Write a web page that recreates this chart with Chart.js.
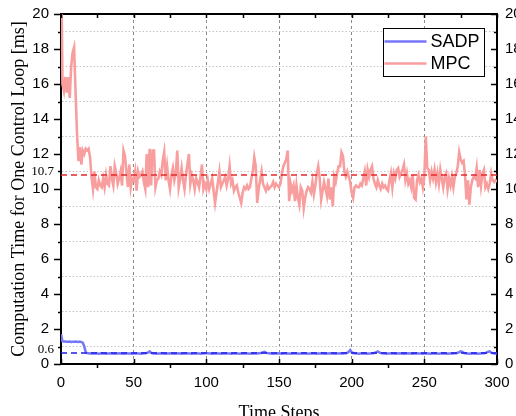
<!DOCTYPE html>
<html>
<head>
<meta charset="utf-8">
<script src="https://cdn.jsdelivr.net/npm/chart.js@4.4.1/dist/chart.umd.min.js"></script>
<style>
  html, body { margin: 0; padding: 0; background: #fff; }
  canvas { display: block; }
</style>
</head>
<body>
<canvas id="chart" width="516" height="416"></canvas>
<script>
// computation time per control loop [ms], one value per time step 0..300
const mpcTimes = [
  24, 16.0, 15.6, 16.4, 15.5, 16.4, 15.2, 17.0, 17.8, 18.1,
  15.6, 13.2, 11.6, 12.4, 11.4, 12.2, 12.0, 12.3, 12.2, 12.3,
  11.8, 10.7, 10.0, 11.0, 10.1, 10.0, 10.5, 10.2, 10.1, 10.6,
  10.1, 10.8, 10.3, 10.2, 11.3, 10.6, 10.2, 11.3, 10.9, 10.3,
  10.6, 11.0, 10.2, 12.2, 11.9, 11.0, 10.1, 11.4, 10.1, 10.6,
  10.5, 11.0, 9.9, 11.0, 10.7, 10.8, 11.0, 10.4, 10.0, 12.0,
  10.1, 12.3, 10.2, 12.2, 12.2, 10.1, 10.5, 10.6, 11.0, 10.8,
  11.6, 12.1, 10.5, 11.3, 10.5, 10.0, 10.8, 11.2, 10.5, 10.9,
  12.2, 10.1, 10.6, 11.2, 10.5, 10.0, 10.8, 11.4, 12.0, 10.3,
  10.8, 10.5, 10.0, 10.6, 10.4, 10.1, 10.7, 11.4, 10.0, 10.3,
  10.0, 10.5, 10.0, 10.3, 10.6, 9.9, 9.2, 9.8, 10.4, 11.0,
  10.1, 10.3, 10.5, 10.7, 10.2, 10.6, 11.3, 10.3, 10.5, 9.9,
  10.1, 10.2, 9.8, 9.5, 9.2, 9.8, 10.1, 10.0, 10.2, 10.0,
  10.1, 10.6, 11.0, 11.8, 11.3, 9.2, 10.0, 10.5, 11.0, 10.3,
  10.1, 9.9, 10.2, 10.0, 10.1, 10.2, 10.4, 10.1, 10.3, 10.2,
  10.1, 10.3, 10.9, 11.3, 11.5, 11.7, 12.2, 9.3, 10.3, 9.9,
  10.2, 9.3, 10.2, 9.5, 9.1, 10.1, 9.9, 8.9, 9.5, 9.9,
  10.1, 10.0, 9.8, 10.4, 9.7, 10.2, 10.9, 11.3, 10.6, 9.4,
  9.9, 10.4, 10.0, 9.6, 10.6, 9.4, 10.1, 9.0, 10.7, 10.4,
  10.9, 11.3, 11.3, 12.1, 11.9, 11.0, 10.7, 11.0, 10.7, 10.4,
  9.8, 9.5, 10.1, 10.2, 10.1, 10.1, 10.3, 10.2, 10.6, 11.0,
  10.2, 11.1, 10.7, 11.1, 11.3, 10.6, 10.3, 10.1, 10.5, 10.2,
  10.0, 10.3, 10.1, 10.2, 10.0, 9.9, 10.5, 10.9, 10.1, 10.9,
  10.6, 11.1, 11.2, 10.7, 10.9, 11.1, 11.4, 10.5, 10.9, 10.3,
  10.5, 10.1, 10.8, 9.5, 9.4, 10.5, 10.8, 10.4, 10.6, 10.1,
  10.7, 13.0, 11.2, 11.1, 10.5, 11.0, 10.6, 11.1, 10.4, 10.9,
  10.3, 11.1, 10.6, 10.1, 10.7, 10.9, 10.0, 10.6, 10.2, 10.7,
  10.1, 10.7, 10.9, 11.3, 12.1, 11.7, 11.5, 11.6, 10.8, 9.4,
  10.5, 9.1, 10.1, 10.5, 10.7, 10.6, 11.2, 10.1, 11.1, 10.2,
  10.9, 11.1, 10.1, 10.3, 10.0, 10.3, 10.9, 10.5, 10.4, 10.5, 10.4
]

const sadpTimes = [
  1.70, 1.30, 1.28, 1.28, 1.27, 1.27, 1.28, 1.26, 1.27, 1.27,
  1.28, 1.27, 1.26, 1.28, 1.25, 1.22, 1.00, 0.68, 0.62, 0.61,
  0.60, 0.61, 0.60, 0.60, 0.61, 0.60, 0.59, 0.60, 0.61, 0.60,
  0.60, 0.59, 0.60, 0.60, 0.61, 0.60, 0.60, 0.59, 0.60, 0.60,
  0.61, 0.60, 0.60, 0.59, 0.60, 0.61, 0.60, 0.60, 0.60, 0.59,
  0.60, 0.60, 0.61, 0.60, 0.60, 0.59, 0.60, 0.61, 0.62, 0.63,
  0.66, 0.72, 0.64, 0.61, 0.60, 0.60, 0.59, 0.60, 0.60, 0.61,
  0.60, 0.60, 0.59, 0.60, 0.60, 0.61, 0.60, 0.60, 0.59, 0.60,
  0.60, 0.61, 0.60, 0.59, 0.60, 0.60, 0.60, 0.61, 0.60, 0.60,
  0.59, 0.60, 0.60, 0.61, 0.60, 0.60, 0.59, 0.60, 0.60, 0.61,
  0.62, 0.61, 0.60, 0.60, 0.59, 0.60, 0.60, 0.61, 0.60, 0.60,
  0.59, 0.60, 0.60, 0.60, 0.61, 0.60, 0.60, 0.59, 0.60, 0.60,
  0.61, 0.60, 0.60, 0.59, 0.60, 0.60, 0.61, 0.60, 0.60, 0.60,
  0.59, 0.60, 0.61, 0.60, 0.60, 0.60, 0.61, 0.62, 0.64, 0.68,
  0.70, 0.65, 0.62, 0.61, 0.60, 0.60, 0.59, 0.60, 0.60, 0.61,
  0.60, 0.60, 0.59, 0.60, 0.60, 0.61, 0.60, 0.60, 0.59, 0.60,
  0.60, 0.61, 0.60, 0.60, 0.59, 0.60, 0.60, 0.61, 0.60, 0.60,
  0.59, 0.60, 0.60, 0.61, 0.60, 0.60, 0.59, 0.60, 0.60, 0.61,
  0.60, 0.60, 0.59, 0.60, 0.60, 0.61, 0.60, 0.60, 0.60, 0.59,
  0.60, 0.60, 0.61, 0.60, 0.60, 0.61, 0.62, 0.64, 0.70, 0.80,
  0.68, 0.63, 0.61, 0.60, 0.60, 0.59, 0.60, 0.60, 0.61, 0.60,
  0.60, 0.59, 0.60, 0.60, 0.61, 0.62, 0.64, 0.68, 0.72, 0.66,
  0.62, 0.61, 0.60, 0.60, 0.59, 0.60, 0.60, 0.61, 0.60, 0.60,
  0.59, 0.60, 0.60, 0.61, 0.60, 0.60, 0.59, 0.60, 0.60, 0.61,
  0.60, 0.60, 0.59, 0.60, 0.60, 0.61, 0.60, 0.60, 0.60, 0.59,
  0.60, 0.61, 0.60, 0.60, 0.59, 0.60, 0.60, 0.61, 0.60, 0.60,
  0.59, 0.60, 0.60, 0.61, 0.60, 0.60, 0.59, 0.60, 0.60, 0.61,
  0.60, 0.61, 0.62, 0.64, 0.68, 0.72, 0.70, 0.64, 0.61, 0.60,
  0.60, 0.59, 0.60, 0.60, 0.61, 0.60, 0.60, 0.59, 0.60, 0.60,
  0.61, 0.62, 0.63, 0.66, 0.70, 0.72, 0.65, 0.62, 0.60, 0.60, 0.61
]

// average lines and the labels printed next to them
const mpcAvg = 10.8
const mpcAvgLabel = "10.7"
const sadpAvg = 0.63
const sadpAvgLabel = "0.6"

const steps = mpcTimes.map((_, i) => i)
const firstStep = steps[0]
const lastStep = steps[steps.length - 1]

const SANS = "'Liberation Sans', Arial, sans-serif"
const SERIF = "'Liberation Serif', 'Times New Roman', serif"
const MPC_COLOR = "rgb(249, 158, 158)"
const SADP_COLOR = "rgb(118, 118, 250)"

const toPoints = (values) => values.map((v, i) => ({ x: steps[i], y: v }))
const hline = (v) => [{ x: firstStep, y: v }, { x: lastStep, y: v }]

// tick marks, average labels and the boxed legend
const decorations = {
  id: "decorations",
  afterDraw(chart) {
    const { ctx, chartArea: a } = chart
    const y = chart.scales.y
    const x = chart.scales.x
    ctx.save()
    ctx.strokeStyle = "#000"
    ctx.lineWidth = 1.5
    ctx.beginPath()
    for (let v = 0; v <= 20; v++) {
      const py = Math.round(y.getPixelForValue(v)) + 0.5
      const major = v % 2 === 0
      ctx.moveTo(a.left - (major ? 7 : 3), py)
      ctx.lineTo(a.left, py)
      ctx.moveTo(a.right, py)
      ctx.lineTo(a.right - (major ? 6 : 3), py)
    }
    for (let t = 0; t <= 300; t += 25) {
      const px = Math.round(x.getPixelForValue(t)) + 0.5
      const major = t % 50 === 0
      if (major) {
        ctx.moveTo(px, a.bottom)
        ctx.lineTo(px, a.bottom - 5)
      } else {
        ctx.moveTo(px, a.bottom)
        ctx.lineTo(px, a.bottom + 4)
      }
      ctx.moveTo(px, a.top)
      ctx.lineTo(px, a.top + 4)
    }
    ctx.stroke()

    ctx.fillStyle = "#000"
    ctx.font = `13px ${SERIF}`
    ctx.textAlign = "right"
    ctx.textBaseline = "middle"
    ctx.fillText(mpcAvgLabel, 54, y.getPixelForValue(mpcAvg) - 3)
    ctx.fillText(sadpAvgLabel, 54, y.getPixelForValue(sadpAvg) - 3)

    // legend
    const items = chart.data.datasets.filter((d) => d.inLegend)
    const bx = 383.5, by = 28.5, bw = 101, bh = 48
    ctx.fillStyle = "#fff"
    ctx.fillRect(bx, by, bw, bh)
    ctx.lineWidth = 1
    ctx.strokeStyle = "#000"
    ctx.strokeRect(bx, by, bw, bh)
    ctx.font = `18px ${SANS}`
    ctx.textAlign = "left"
    items.forEach((d, i) => {
      const ly = by + 13 + i * 22
      ctx.strokeStyle = d.borderColor
      ctx.lineWidth = 2.5
      ctx.beginPath()
      ctx.moveTo(bx + 1, ly)
      ctx.lineTo(bx + 43, ly)
      ctx.stroke()
      ctx.fillStyle = "#000"
      ctx.fillText(d.label, bx + 47, ly + 1)
    })
    ctx.restore()
  },
}

const tickFont = { family: SANS, size: 15 }

new Chart(document.getElementById("chart"), {
  type: "line",
  data: {
    datasets: [
      {
        label: "mpc-avg",
        data: hline(mpcAvg),
        borderColor: "rgb(230, 40, 40)",
        borderWidth: 1.3,
        borderDash: [6, 4],
        pointRadius: 0,
      },
      {
        label: "sadp-avg",
        data: hline(sadpAvg),
        borderColor: "rgb(30, 30, 230)",
        borderWidth: 1.3,
        borderDash: [6, 4],
        pointRadius: 0,
      },
      {
        label: "SADP",
        inLegend: true,
        data: toPoints(sadpTimes),
        borderColor: SADP_COLOR,
        borderWidth: 2.5,
        pointRadius: 0,
        tension: 0,
      },
      {
        label: "MPC",
        inLegend: true,
        data: toPoints(mpcTimes),
        borderColor: MPC_COLOR,
        borderWidth: 2.6,
        pointRadius: 0,
        tension: 0,
      },
    ],
  },
  options: {
    responsive: false,
    animation: false,
    devicePixelRatio: 1,
    layout: { padding: 0 },
    plugins: {
      legend: { display: false },
      tooltip: { enabled: false },
    },
    scales: {
      x: {
        type: "linear",
        position: "bottom",
        min: 0,
        max: 300,
        afterFit: (s) => { s.height = 52 },
        ticks: {
          stepSize: 25,
          autoSkip: false,
          maxRotation: 0,
          padding: 4,
          color: "#000",
          font: tickFont,
          callback: (v) => (v % 50 === 0 ? v : ""),
        },
        grid: {
          color: (c) => (c.tick && c.tick.value % 50 === 0 && c.tick.value > 0 && c.tick.value < 300 ? "#8a8a8a" : "transparent"),
          lineWidth: 1,
          tickLength: 6,
          tickColor: "transparent",
        },
        border: { color: "#000", width: 2, dash: [3, 3] },
        title: {
          display: true,
          text: "Time Steps",
          color: "#000",
          font: { family: SERIF, size: 18, lineHeight: 1 },
          padding: { top: 0, bottom: -6 },
        },
      },
      xTop: {
        type: "linear",
        position: "top",
        min: 0,
        max: 300,
        afterFit: (s) => { s.height = 13 },
        ticks: { display: false },
        grid: { drawOnChartArea: false, drawTicks: false },
        border: { color: "#000", width: 2 },
      },
      y: {
        type: "linear",
        position: "left",
        min: 0,
        max: 20,
        afterFit: (s) => { s.width = 61 },
        ticks: {
          stepSize: 1,
          autoSkip: false,
          padding: 5,
          color: "#000",
          font: tickFont,
          callback: (v) => (v % 2 === 0 ? v : ""),
        },
        grid: {
          color: (c) => (c.tick && c.tick.value % 2 === 1 ? "#c4c4c4" : "transparent"),
          lineWidth: 1,
          tickLength: 7,
          tickColor: "transparent",
        },
        border: { color: "#000", width: 2, dash: [1.5, 2] },
        title: {
          display: true,
          text: "Computation Time for One Control Loop [ms]",
          color: "#000",
          font: { family: SERIF, size: 18, lineHeight: 1 },
          padding: { top: 10.5, bottom: 0 },
        },
      },
      yRight: {
        type: "linear",
        position: "right",
        min: 0,
        max: 20,
        afterFit: (s) => { s.width = 19 },
        ticks: {
          stepSize: 1,
          autoSkip: false,
          padding: 2,
          color: "#000",
          font: tickFont,
          callback: (v) => (v % 2 === 0 ? v : ""),
        },
        grid: { drawOnChartArea: false, tickLength: 6, tickColor: "transparent" },
        border: { color: "#000", width: 2 },
      },
    },
  },
  plugins: [decorations],
})
</script>
</body>
</html>
